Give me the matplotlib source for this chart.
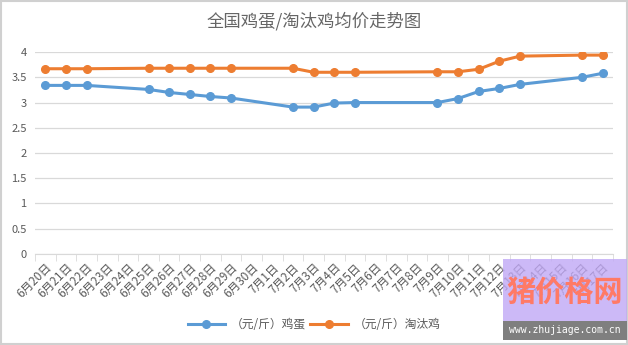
import matplotlib
matplotlib.use("Agg")
import matplotlib.pyplot as plt
from matplotlib.patches import Rectangle

plt.rcParams['font.family'] = ['Noto Sans CJK SC', 'DejaVu Sans']

# 横轴日期（全部类别）
dates = ['6月%d日' % d for d in range(20, 31)] + ['7月%d日' % d for d in range(1, 18)]

# 有数据的日期
data_dates = ['6月20日', '6月21日', '6月22日', '6月25日', '6月26日', '6月27日',
              '6月28日', '6月29日', '7月2日', '7月3日', '7月4日', '7月5日',
              '7月9日', '7月10日', '7月11日', '7月12日', '7月13日', '7月16日',
              '7月17日']
egg = [3.34, 3.34, 3.34, 3.26, 3.20, 3.16, 3.12, 3.09, 2.91, 2.91, 2.99, 3.00,
       3.00, 3.08, 3.22, 3.28, 3.36, 3.50, 3.58]
hen = [3.67, 3.67, 3.67, 3.68, 3.68, 3.68, 3.68, 3.68, 3.68, 3.60, 3.60, 3.60,
       3.61, 3.61, 3.66, 3.82, 3.92, 3.94, 3.94]
yticks = [0, 0.5, 1, 1.5, 2, 2.5, 3, 3.5, 4]

xpos = [dates.index(d) for d in data_dates]

fig = plt.figure(figsize=(6.28, 3.45), dpi=100)
ax = fig.add_axes([0.0557, 0.264, 0.9203, 0.585])

ax.plot(xpos, egg, color='#5b9bd5', lw=2.2, marker='o', ms=5.5,
        label='（元/斤）鸡蛋')
ax.plot(xpos, hen, color='#ed7d31', lw=2.2, marker='o', ms=5.5,
        label='（元/斤）淘汰鸡')

ax.set_xlim(-0.5, len(dates) - 0.5)
ax.set_ylim(0, 4)
ax.set_yticks(yticks)
ax.set_yticklabels(['%g' % v for v in yticks], color='#595959', fontsize=8)
ax.grid(axis='y', color='#d9d9d9', lw=0.9)
ax.set_axisbelow(True)
for s in ['top', 'right', 'left']:
    ax.spines[s].set_visible(False)
ax.spines['bottom'].set_color('#d9d9d9')
ax.tick_params(axis='y', length=0, pad=6)

ax.set_xticks(range(len(dates)))
ax.set_xticklabels(dates, rotation=45, ha='right', va='top',
                   rotation_mode='anchor', fontsize=8.5, color='#595959')
ax.tick_params(axis='x', which='major', length=0, pad=5)
ax.set_xticks([i - 0.5 for i in range(len(dates) + 1)], minor=True)
ax.tick_params(axis='x', which='minor', length=5, color='#d9d9d9')

fig.text(0.5, 0.94, '全国鸡蛋/淘汰鸡均价走势图', ha='center', va='center',
         fontsize=12.5, color='#666666')

fig.legend(loc='center', bbox_to_anchor=(0.5, 0.058), ncol=2, frameon=False,
           fontsize=8.5, handlelength=3.2, columnspacing=0.3, handletextpad=0.5,
           labelcolor='#595959')

# 外框
fig.patches.append(Rectangle((0.002, 0.004), 0.996, 0.993, transform=fig.transFigure,
                             fill=False, ec='#d0d0d0', lw=1.5))

# 水印
fig.patches.append(Rectangle((503 / 628, 1 - 340 / 345), 124 / 628, 81 / 345,
                             transform=fig.transFigure, fc='#c0a8f5', alpha=0.8,
                             ec='none', zorder=5))
fig.patches.append(Rectangle((503 / 628, 1 - 340 / 345), 124 / 628, 19 / 345,
                             transform=fig.transFigure, fc='#7f7f7f',
                             ec='none', zorder=6))
fig.text(565 / 628, 1 - 292 / 345, '猪价格网', ha='center', va='center',
         fontsize=21, fontweight='bold', color='#ff7a66', zorder=7)
fig.text(565 / 628, 1 - 330 / 345, 'www.zhujiage.com.cn', ha='center', va='center',
         fontsize=7, family='DejaVu Sans Mono', color='white', zorder=7)

fig.savefig('out.png', dpi=100)
